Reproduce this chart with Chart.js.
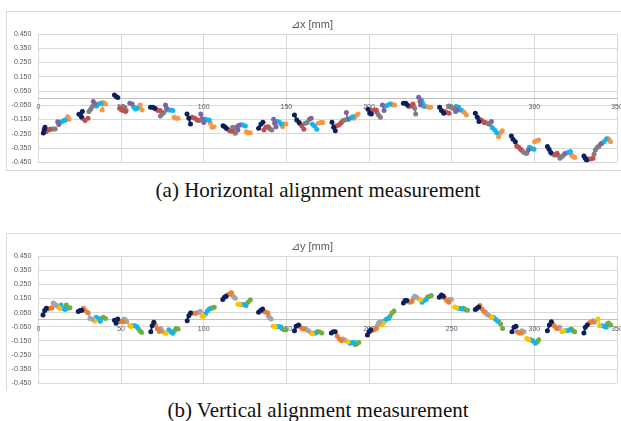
<!DOCTYPE html>
<html>
<head>
<meta charset="utf-8">
<script src="https://cdn.jsdelivr.net/npm/chart.js@4.4.1/dist/chart.umd.min.js"></script>
<style>
  body { margin: 0; width: 621px; height: 421px; background: #fff; position: relative; overflow: hidden; }
  .box { position: absolute; left: 6px; width: 615px; border: 1px solid #d9d9d9; }
  #boxA { top: 11px; height: 158px; }
  #boxB { top: 233px; height: 157px; border-bottom: none; }
  .box canvas { display: block; }
  .cap { position: absolute; left: 0; width: 636px; text-align: center; font-family: "Liberation Serif", "Times New Roman", serif; font-size: 21px; line-height: 21px; color: #111; white-space: nowrap; }
</style>
</head>
<body>
<div class="box" id="boxA"><canvas id="chartA" width="615" height="158"></canvas></div>
<div class="cap" style="top:180px">(a) Horizontal alignment measurement</div>
<div class="box" id="boxB"><canvas id="chartB" width="615" height="157"></canvas></div>
<div class="cap" style="top:400px">(b) Vertical alignment measurement</div>
<script>
// axis ticks
const xTicks = [0, 50, 100, 150, 200, 250, 300, 350];
const yTicks = [0.45, 0.35, 0.25, 0.15, 0.05, -0.05, -0.15, -0.25, -0.35, -0.45];

// (a) horizontal alignment, one array of short runs per colour
const hNavy = [
  [[3,-0.245],[3.5,-0.222],[4,-0.205]],
  [[24.5,-0.113],[26.6,-0.094],[26,-0.13]],
  [[46,0.022],[47,0.012],[48,0.004]],
  [[67.8,-0.064],[69.2,-0.064],[70.4,-0.071]],
  [[89.9,-0.111],[91,-0.141],[92,-0.181]],
  [[111.7,-0.193],[112.7,-0.2],[113.7,-0.211]],
  [[133.2,-0.211],[134.6,-0.183],[135.8,-0.169]],
  [[154.9,-0.118],[156.3,-0.153],[157.7,-0.171]],
  [[177.6,-0.169],[178.6,-0.204],[179.6,-0.228]],
  [[199.4,-0.078],[200.4,-0.106],[201.4,-0.111]],
  [[220.8,-0.036],[222.2,-0.036],[223.2,-0.048]],
  [[242.7,-0.064],[243.8,-0.087],[245.2,-0.106]],
  [[264.3,-0.106],[265.5,-0.134],[266.5,-0.164]],
  [[286.1,-0.265],[287.1,-0.289],[288.5,-0.305]],
  [[307.9,-0.34],[308.9,-0.359],[309.9,-0.382]],
  [[330,-0.405],[330.8,-0.421],[331.6,-0.438]]
];
const hRed = [
  [[4.4,-0.235],[5.8,-0.225],[7,-0.218]],
  [[26.6,-0.141],[28.2,-0.157],[30,-0.141]],
  [[49.1,-0.071],[50.3,-0.083],[51.5,-0.087],[52.7,-0.094]],
  [[71.2,-0.078],[72.4,-0.087],[73.6,-0.087]],
  [[93,-0.134],[94.6,-0.141],[96,-0.153]],
  [[114.5,-0.218],[115.7,-0.228],[117.1,-0.232]],
  [[136.4,-0.223],[137.6,-0.204],[138.8,-0.2]],
  [[158.4,-0.181],[159.4,-0.195],[160.6,-0.218]],
  [[180.2,-0.195],[181.7,-0.188],[182.9,-0.176]],
  [[201.8,-0.087],[203,-0.083],[204.4,-0.083]],
  [[224,-0.059],[225.2,-0.055],[226.6,-0.041]],
  [[245.8,-0.094],[247.2,-0.101],[248.4,-0.106]],
  [[266.9,-0.148],[268.3,-0.157],[269.6,-0.171]],
  [[289.3,-0.335],[290.5,-0.345],[291.7,-0.359]],
  [[310.9,-0.391],[312.3,-0.398],[313.7,-0.386]],
  [[332.5,-0.426],[334.1,-0.426],[335.5,-0.421]]
];
const hGray = [
  [[7.4,-0.218],[8.9,-0.216],[10.1,-0.216]],
  [[30.6,-0.094],[31.6,-0.078],[32.6,-0.059]],
  [[51.1,-0.059],[52.3,-0.064],[53.1,-0.087]],
  [[73.8,-0.125],[74.8,-0.111],[75.9,-0.101]],
  [[96.4,-0.153],[97.4,-0.157]],
  [[117.5,-0.204],[118.5,-0.228],[119.1,-0.246]],
  [[139.2,-0.204],[140.2,-0.216],[141.2,-0.223]],
  [[161.4,-0.176],[162.6,-0.171]],
  [[183.3,-0.169],[184.3,-0.157],[185.3,-0.153]],
  [[204.8,-0.101],[205.8,-0.118],[206.9,-0.134]],
  [[226.6,-0.048],[227.6,-0.071],[228.2,-0.111]],
  [[248.2,-0.055],[249.4,-0.064],[250.8,-0.071]],
  [[270.4,-0.171],[271.6,-0.176],[272.8,-0.183]],
  [[292.5,-0.368],[293.7,-0.382],[294.9,-0.386]],
  [[314.3,-0.4],[315.5,-0.421],[316.7,-0.41]],
  [[336.1,-0.393],[336.9,-0.363],[338.1,-0.345]]
];
const hPurple = [
  [[11.7,-0.165],[12.3,-0.185]],
  [[33.2,-0.024],[34.2,-0.041]],
  [[55.3,-0.036],[56.7,-0.041]],
  [[76.9,-0.048],[77.5,-0.071]],
  [[98.2,-0.111],[99,-0.145],[100,-0.17]],
  [[120.1,-0.2],[120.7,-0.223],[121.3,-0.19]],
  [[142.3,-0.148],[142.9,-0.176],[143.7,-0.2]],
  [[164,-0.148],[165,-0.141]],
  [[186.3,-0.101],[187,-0.148]],
  [[208.1,-0.048],[209.1,-0.087]],
  [[230,0.006],[230.8,-0.024],[231.2,-0.048]],
  [[251.4,-0.071],[252.4,-0.094],[253.4,-0.083]],
  [[273.2,-0.176],[274,-0.164]],
  [[295.4,-0.386],[296.4,-0.363]],
  [[317.1,-0.405],[318.3,-0.391]],
  [[338.9,-0.34],[340.1,-0.321]]
];
const hBlue = [
  [[13.5,-0.169],[14.9,-0.16],[16.1,-0.153]],
  [[35.2,-0.055],[36.6,-0.041],[37.8,-0.036]],
  [[57.7,-0.064],[58.8,-0.076],[59.8,-0.071]],
  [[78.5,-0.083],[79.9,-0.083],[81.3,-0.087]],
  [[101,-0.148],[102.2,-0.153],[103.4,-0.153]],
  [[122.5,-0.186],[123.7,-0.188],[125.2,-0.195]],
  [[144.5,-0.164],[145.7,-0.169],[146.9,-0.181]],
  [[165.8,-0.183],[167,-0.195],[168.4,-0.218]],
  [[187.7,-0.148],[188.9,-0.139],[190.1,-0.13]],
  [[210.1,-0.055],[211.5,-0.048],[212.7,-0.041]],
  [[231.7,-0.013],[232.5,-0.036],[233.3,-0.059]],
  [[252.8,-0.059],[254.2,-0.064],[255.4,-0.083]],
  [[274.6,-0.207],[276,-0.223],[277.2,-0.242]],
  [[297,-0.345],[298.2,-0.351],[299.8,-0.359]],
  [[318.8,-0.386],[320.3,-0.382],[321.8,-0.375]],
  [[340.9,-0.317],[342.1,-0.305],[343.5,-0.289]]
];
const hOrange = [
  [[16.5,-0.153],[17.7,-0.13],[18.5,-0.148]],
  [[38.6,-0.083],[39.2,-0.031],[40.6,-0.041]],
  [[60.8,-0.059],[61.6,-0.048],[62.8,-0.083]],
  [[82.1,-0.134],[83.3,-0.141],[84.5,-0.141]],
  [[104,-0.176],[105,-0.204],[106.2,-0.2]],
  [[125.8,-0.235],[126.8,-0.242],[128.2,-0.242]],
  [[147.7,-0.2],[148.5,-0.181],[149.7,-0.181]],
  [[169.4,-0.176],[170.8,-0.171],[172,-0.171]],
  [[190.9,-0.141],[191.9,-0.125],[193.3,-0.111]],
  [[213.5,-0.041],[214.5,-0.048],[215.5,-0.048]],
  [[234.7,-0.059],[236.1,-0.064],[237.3,-0.064]],
  [[256.3,-0.087],[257.5,-0.099],[258.9,-0.118]],
  [[278.4,-0.27],[279.2,-0.246],[280.6,-0.228]],
  [[300.2,-0.305],[301.4,-0.298],[302.6,-0.293]],
  [[322.4,-0.398],[323.4,-0.41],[324.4,-0.417]],
  [[344.1,-0.282],[345.1,-0.289],[346.1,-0.305]]
];

// (b) vertical alignment
const vNavy = [
  [[2.8,0.033],[3.8,0.064],[4.8,0.081]],
  [[24.1,0.057],[25.2,0.064],[26.2,0.066]],
  [[46,-0.005],[47,-0.025],[48,0.005]],
  [[68,-0.085],[68.8,-0.043],[69.8,-0.019]],
  [[90,-0.007],[91,0.028],[92,0.047]],
  [[111.5,0.142],[112.5,0.159],[113.5,0.166]],
  [[133.2,0.052],[134.4,0.064],[135.6,0.076]],
  [[154.9,-0.078],[155.9,-0.047],[157.3,-0.038]],
  [[177.2,-0.095],[178.4,-0.085],[179.6,-0.085]],
  [[199,-0.109],[200,-0.085],[201,-0.071]],
  [[220.8,0.118],[221.8,0.135],[222.8,0.135]],
  [[242.5,0.159],[243.8,0.175],[245,0.166]],
  [[264.3,0.071],[265.3,0.081],[266.3,0.09]],
  [[286.5,-0.085],[287.7,-0.054],[288.9,-0.047]],
  [[307.9,-0.078],[309.1,-0.038],[310.3,-0.014]],
  [[330,-0.095],[330.8,-0.054],[332,-0.038]]
];
const vOrange = [
  [[5.8,0.076],[7,0.081],[8.2,0.085]],
  [[27.2,0.081],[28.2,0.064],[29.6,0.052]],
  [[49.1,-0.014],[50.3,-0.014],[51.3,-0.014]],
  [[70.8,-0.038],[72,-0.066],[73.2,-0.083]],
  [[92.6,0.047],[93.8,0.045],[95,0.045]],
  [[114.3,0.175],[115.5,0.182],[116.7,0.19]],
  [[136.4,0.057],[137.6,0.052],[138.8,0.047]],
  [[158.1,-0.047],[159.4,-0.062],[160.6,-0.066]],
  [[180.8,-0.118],[182,-0.137],[183.3,-0.149]],
  [[201.8,-0.078],[203,-0.071],[204.4,-0.062]],
  [[223.6,0.128],[224.8,0.123],[226,0.128]],
  [[245.8,0.152],[247,0.135],[248.2,0.123]],
  [[267.1,0.1],[268.3,0.076],[269.6,0.057]],
  [[289.7,-0.085],[290.9,-0.095],[292.1,-0.095]],
  [[311.1,-0.031],[312.3,-0.047],[313.5,-0.062]],
  [[333.1,-0.024],[334.1,-0.019],[335.1,-0.014]]
];
const vGray = [
  [[9,0.118],[10.1,0.109],[10.9,0.1]],
  [[30.2,0.047],[31.2,0.009],[32.6,0.005]],
  [[51.9,0.005],[52.7,-0.002],[53.5,-0.014]],
  [[74,-0.062],[74.8,-0.078]],
  [[95.8,0.047],[97,0.052],[98,0.057]],
  [[117.5,0.171],[118.5,0.159],[119.1,0.152]],
  [[139.2,0.024],[140,0.012],[140.8,0.005]],
  [[161.4,-0.062],[162.4,-0.071],[163.4,-0.078]],
  [[184.1,-0.137],[184.9,-0.142]],
  [[205,-0.043],[205.8,-0.024],[206.7,-0.014]],
  [[226.8,0.152],[227.6,0.166],[228.8,0.159]],
  [[248.8,0.142],[249.8,0.142]],
  [[270.4,0.052],[271.2,0.04],[272,0.033]],
  [[292.5,-0.078],[293.8,-0.085]],
  [[314.3,-0.062],[315.3,-0.054]],
  [[335.7,-0.007],[336.5,-0.019]]
];
const vYellow = [
  [[11.9,0.09],[12.9,0.081]],
  [[33.4,0],[34.2,-0.012]],
  [[55.3,-0.043],[56.1,-0.05]],
  [[76,-0.09],[77.3,-0.097]],
  [[99,0.024],[100,0.024]],
  [[120.7,0.109],[121.9,0.109]],
  [[142,-0.047],[143.3,-0.05]],
  [[164.6,-0.09],[165.8,-0.102]],
  [[186.1,-0.149],[187.3,-0.156]],
  [[207.9,-0.038],[208.7,-0.024]],
  [[230,0.147],[231.3,0.142]],
  [[251.8,0.09],[253,0.085]],
  [[273.2,0.024],[274.4,0.017]],
  [[295.4,-0.133],[296.6,-0.142]],
  [[316.7,-0.085],[317.9,-0.078]],
  [[338.5,0.005],[339.5,-0.043]]
];
const vBlue = [
  [[13.7,0.104],[14.9,0.081],[16.1,0.071]],
  [[35,0.017],[36.2,0.009],[37.4,-0.012]],
  [[57.1,-0.043],[58.4,-0.043],[59.6,-0.05]],
  [[78.9,-0.071],[80.1,-0.085],[81.3,-0.097]],
  [[101,0.04],[102.2,0.062],[103.4,0.076]],
  [[122.7,0.109],[123.9,0.107],[125.1,0.104]],
  [[144.1,-0.05],[145.3,-0.05],[146.5,-0.05]],
  [[166.4,-0.097],[167.8,-0.095]],
  [[188.5,-0.166],[189.7,-0.161],[190.9,-0.161]],
  [[209.5,-0.007],[210.7,0.005],[211.9,0.009]],
  [[232.1,0.123],[233.3,0.135],[234.5,0.142]],
  [[253.8,0.081],[255,0.081],[256.3,0.076]],
  [[275.2,0.017],[276.4,0.005],[277.6,-0.007]],
  [[297.8,-0.142],[299,-0.149],[300.2,-0.161]],
  [[318.8,-0.078],[320,-0.078],[321.4,-0.071]],
  [[340.9,-0.043],[342.1,-0.047],[343.5,-0.054]]
];
const vGreen = [
  [[16.9,0.104],[17.7,0.081],[19.1,0.085]],
  [[38.2,0.009],[39.2,0.017],[40.6,0.009]],
  [[60.4,-0.062],[61.4,-0.078],[62.4,-0.09]],
  [[82.3,-0.078],[83.3,-0.062],[84.5,-0.066]],
  [[104.2,0.081],[105.2,0.083],[106.4,0.088]],
  [[125.6,0.1],[126.8,0.123],[128.2,0.14]],
  [[147.3,-0.062],[148.5,-0.071],[149.7,-0.071]],
  [[168.6,-0.085],[169.8,-0.085],[171.4,-0.095]],
  [[191.5,-0.175],[192.5,-0.173],[193.8,-0.161]],
  [[212.7,0.024],[213.9,0.047],[215.1,0.062]],
  [[235.3,0.159],[236.5,0.166],[237.7,0.171]],
  [[257.1,0.081],[258.3,0.071],[259.5,0.066]],
  [[278.4,-0.014],[279.6,-0.031],[280.8,-0.062]],
  [[300.8,-0.166],[301.8,-0.156],[302.6,-0.142]],
  [[322.4,-0.066],[323.4,-0.078],[324.4,-0.085]],
  [[344.1,-0.031],[344.9,-0.024],[346.1,-0.038]]
];

const font = '"Liberation Sans", Arial, sans-serif';

// flatten runs, with a null point between runs so the line breaks
function toPoints(segs) {
  const pts = [];
  segs.forEach((seg, i) => {
    if (i > 0) pts.push({ x: seg[0][0], y: null });
    seg.forEach(p => pts.push({ x: p[0], y: p[1] }));
  });
  return pts;
}

function makeChart(id, title, series, colors, bottomPad) {
  const datasets = series.map((s, i) => ({
    data: toPoints(s),
    borderColor: colors[i],
    backgroundColor: colors[i],
    borderWidth: 1.8,
    pointRadius: 2.5,
    pointBorderWidth: 0,
    pointHoverRadius: 0,
    spanGaps: false
  }));

  return new Chart(document.getElementById(id), {
    type: 'line',
    data: { datasets },
    options: {
      responsive: false,
      animation: false,
      events: [],
      layout: { padding: { left: 0, top: 0, right: 5, bottom: bottomPad } },
      plugins: {
        legend: { display: false },
        tooltip: { enabled: false },
        title: {
          display: true,
          text: title,
          color: '#595959',
          font: { family: font, size: 11, weight: 'normal' },
          padding: { top: 6.4, bottom: 2.4 }
        }
      },
      scales: {
        x: {
          type: 'linear',
          min: 0,
          max: 350,
          position: { y: 0 },
          afterBuildTicks: s => { s.ticks = xTicks.map(v => ({ value: v })); },
          afterFit: s => { s.height = 0; s.paddingLeft = 0; s.paddingRight = 0; },
          ticks: { color: '#595959', font: { family: font, size: 7 }, padding: 5, maxRotation: 0, autoSkip: false },
          grid: { color: '#d9d9d9', lineWidth: 1, drawTicks: false },
          border: { display: true, color: '#bfbfbf', width: 1 }
        },
        y: {
          min: -0.45,
          max: 0.45,
          afterBuildTicks: s => { s.ticks = yTicks.map(v => ({ value: v })); },
          // fixed axis width, and no extra room above/below for the labels
          afterFit: s => { s.width = 31.4; s.paddingTop = 0; s.paddingBottom = 0; },
          ticks: {
            color: '#595959',
            font: { family: font, size: 7 },
            padding: 7,
            callback: v => v.toFixed(3)
          },
          grid: { color: '#d9d9d9', lineWidth: 1, drawTicks: false, dash: [2, 2], borderDash: [2, 2] },
          border: { display: false }
        }
      }
    }
  });
}

makeChart('chartA', '\u22BFx [mm]',
  [hNavy, hRed, hGray, hPurple, hBlue, hOrange],
  ['#0b1f5c', '#c0504d', '#7f7f7f', '#8064a2', '#14b4ec', '#f79646'], 7.7);

makeChart('chartB', '\u22BFy [mm]',
  [vNavy, vOrange, vGray, vYellow, vBlue, vGreen],
  ['#0b1f5c', '#ed7d31', '#a5a5a5', '#ffc000', '#14b4ec', '#70ad47'], 7.7);
</script>
</body>
</html>
